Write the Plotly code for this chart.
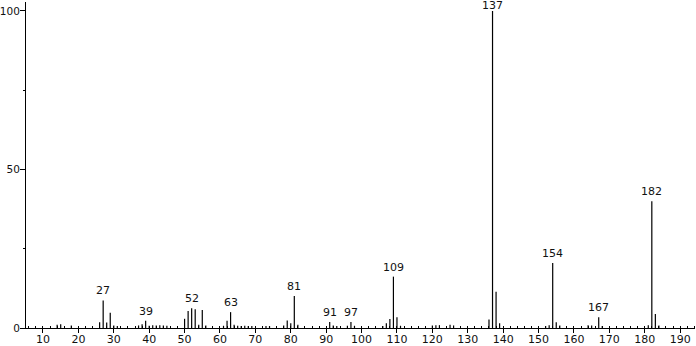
import plotly.graph_objects as go

mz = [14, 15, 18, 26, 27, 28, 29, 30, 31, 37, 38, 39, 40, 41, 42, 43, 44, 45,
      50, 51, 52, 53, 54, 55, 56, 61, 62, 63, 64, 65, 66, 67, 68, 69, 73, 74,
      78, 79, 80, 81, 82, 91, 92, 93, 96, 97, 98, 106, 107, 108, 109, 110, 111,
      120, 121, 122, 125, 126, 136, 137, 138, 139, 152, 153, 154, 155, 156,
      164, 165, 167, 168, 181, 182, 183, 184]
intensity = [1.0, 1.2, 0.8, 1.8, 8.7, 1.7, 4.8, 0.8, 0.6, 0.8, 1.2, 2.3, 0.7, 0.9, 0.8, 0.9, 0.8, 0.7,
             2.9, 5.4, 6.2, 5.9, 1.0, 5.7, 0.8, 0.7, 2.3, 5.0, 1.0, 0.7, 0.6, 0.7, 0.6, 0.6, 0.6, 0.6,
             0.8, 2.4, 1.5, 10.1, 1.0, 1.9, 0.8, 0.6, 0.7, 1.9, 0.7, 0.6, 1.5, 2.8, 16.2, 3.4, 0.7,
             0.8, 0.9, 0.9, 1.0, 0.8, 2.7, 100, 11.4, 1.5, 0.6, 0.9, 20.5, 1.8, 0.8,
             0.9, 0.8, 3.4, 0.6, 0.9, 40.0, 4.4, 0.8]
labeled = [27, 39, 52, 63, 81, 91, 97, 109, 137, 154, 167, 182]

xs, ys = [], []
for m, v in zip(mz, intensity):
    xs += [m, m, None]
    ys += [0, v, None]

fig = go.Figure()
fig.add_trace(go.Scatter(x=xs, y=ys, mode="lines",
                         line=dict(color="black", width=1.2),
                         hoverinfo="skip", showlegend=False))

lookup = dict(zip(mz, intensity))
for m in labeled:
    fig.add_annotation(x=m, y=lookup[m], text=str(m), showarrow=False,
                       yanchor="bottom", yshift=(-3 if m == 137 else 1),
                       font=dict(family="DejaVu Sans", size=11, color="#111"))

fig.update_layout(
    width=696, height=346,
    margin=dict(l=26, r=1, t=2, b=18, autoexpand=False),
    plot_bgcolor="white", paper_bgcolor="white",
    font=dict(family="DejaVu Sans", size=11, color="#111"),
    xaxis=dict(range=[5.2, 194.2], showgrid=False, zeroline=False, automargin=False,
               showline=True, linecolor="black", linewidth=1,
               tickmode="linear", tick0=10, dtick=10,
               ticks="outside", ticklen=4, tickcolor="black", tickwidth=1,
               ticklabelstandoff=-3,
               tickfont=dict(size=11),
               minor=dict(ticks="inside", dtick=2, tick0=0, ticklen=2,
                          tickcolor="black", tickwidth=1, showgrid=False)),
    yaxis=dict(range=[0, 102.8], showgrid=False, zeroline=False, automargin=False,
               showline=True, linecolor="black", linewidth=1,
               tickmode="array", tickvals=[0, 50, 100],
               ticks="outside", ticklen=5, tickcolor="black", tickwidth=1,
               ticklabelstandoff=-2,
               tickfont=dict(size=10.5),
               minor=dict(ticks="outside", tickvals=[25, 75], ticklen=2,
                          tickcolor="black", tickwidth=1, showgrid=False)),
)

fig.write_html("out.html")
